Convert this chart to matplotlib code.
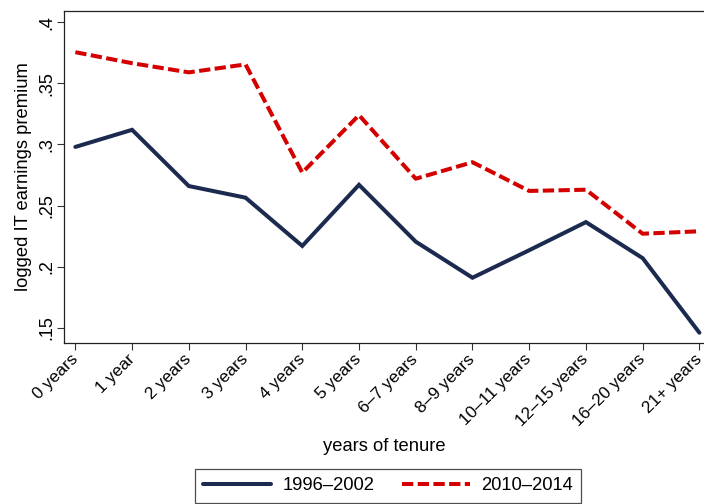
import matplotlib.pyplot as plt

plt.rcParams['font.family'] = ['Liberation Sans', 'DejaVu Sans']

categories = ["0 years", "1 year", "2 years", "3 years", "4 years", "5 years",
              "6\u20137 years", "8\u20139 years", "10\u201311 years", "12\u201315 years",
              "16\u201320 years", "21+ years"]
premium_1996_2002 = [0.298, 0.312, 0.266, 0.2565, 0.217, 0.267, 0.2205, 0.191,
                     0.2135, 0.2365, 0.207, 0.146]
premium_2010_2014 = [0.3755, 0.3665, 0.359, 0.3655, 0.277, 0.324, 0.272, 0.2855,
                     0.262, 0.263, 0.227, 0.229]
yticks = [0.15, 0.2, 0.25, 0.3, 0.35, 0.4]
ytick_labels = [".15", ".2", ".25", ".3", ".35", ".4"]

fs = 13.2

fig = plt.figure(figsize=(7.04, 5.04), dpi=100)
ax = fig.add_axes([64 / 704, 1 - 343 / 504, 1 - 64 / 704, (343 - 11) / 504])

x = list(range(len(categories)))
ax.plot(x, premium_1996_2002, color="#1c2a4f", lw=2.9, solid_capstyle="round",
        solid_joinstyle="miter", label="1996\u20132002")
ax.plot(x, premium_2010_2014, color="#d40000", lw=2.9, dashes=(2.8, 1.1),
        label="2010\u20132014")

ax.set_xlim(-0.2, 11.081)
ax.set_ylim(0.1376, 0.4092)
ax.set_xticks(x)
ax.set_xticklabels(categories, rotation=45, ha="right", va="center",
                   rotation_mode="anchor", fontsize=12.3)
ax.set_yticks(yticks)
ax.set_yticklabels(ytick_labels, rotation=90, va="center", fontsize=13)
ax.tick_params(direction="out", length=5, width=0.8, color="#333333")
ax.tick_params(axis="x", pad=5)
ax.tick_params(axis="y", pad=1.5)
for s in ax.spines.values():
    s.set_linewidth(0.9)
    s.set_color("#222222")
ax.spines["right"].set_visible(False)

ax.set_xlabel("years of tenure", fontsize=fs, labelpad=6)
ax.set_ylabel("logged IT earnings premium", fontsize=fs, labelpad=4)

leg = fig.legend(loc="upper center", bbox_to_anchor=(388 / 704, 1 - 469 / 504),
                 ncol=2, frameon=True, fancybox=False, fontsize=fs,
                 handlelength=3.7, columnspacing=1.5, borderpad=0.45,
                 handletextpad=0.63, borderaxespad=0)
leg.get_frame().set_edgecolor("#222222")
leg.get_frame().set_linewidth(0.9)

fig.savefig("out.png", dpi=100)
